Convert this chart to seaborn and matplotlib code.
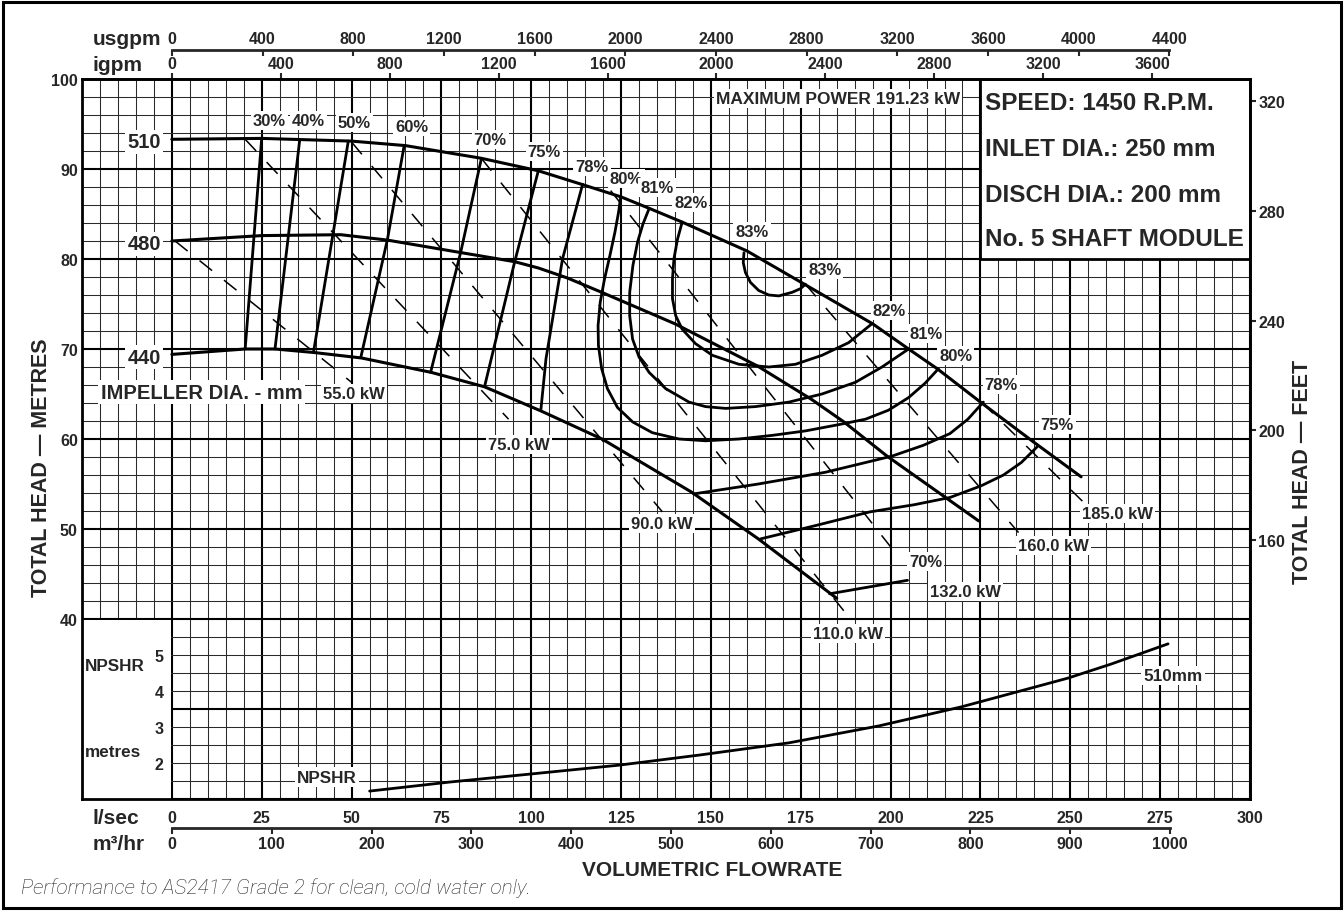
import numpy as np
import pandas as pd
import matplotlib
matplotlib.use("Agg")
import matplotlib.pyplot as plt
import seaborn as sns
from matplotlib.patches import Rectangle
from matplotlib.ticker import MultipleLocator, FixedLocator, FuncFormatter

# ---------------- data ----------------
# impeller head curves: flow (l/s) and total head (m)
imp_names = ["510", "480", "440"]
q_510 = [0, 25, 50, 65, 86, 102, 114, 125, 133, 142, 160, 176, 195, 205, 213, 225, 240, 253]
h_510 = [93.3, 93.4, 93.1, 92.6, 91.2, 89.8, 88.3, 86.9, 85.6, 84.1, 80.9, 77.2, 72.8, 70.0, 67.8, 64.1, 59.6, 55.8]
q_480 = [0, 25, 47, 60, 80.6, 95.4, 102, 110, 119, 140, 163, 178, 187, 199, 224.5]
h_480 = [82.0, 82.6, 82.7, 82.1, 80.7, 79.7, 79.0, 77.9, 76.4, 72.8, 68.1, 64.4, 61.9, 58.1, 50.9]
q_440 = [0, 20.4, 28.7, 39.8, 52.8, 72.2, 87.0, 102.8, 119.7, 144.6, 163.2, 185]
h_440 = [69.4, 70.0, 70.0, 69.6, 69.0, 67.4, 65.8, 63.1, 60.0, 54.1, 48.9, 42.3]

# efficiency iso-lines
eff_names = ["30", "40", "50", "60", "70", "75", "78a", "78b", "75b", "70b", "80", "81", "82", "83"]
eff_q = [
    [25.0, 20.4],
    [35.6, 28.7],
    [49.1, 39.4],
    [64.6, 60.0, 52.6],
    [86.1, 80.4, 72.0],
    [101.9, 95.4, 87.0],
    [114.3, 108.7, 104.1, 102.7],
    [145.2, 163.2, 181.8, 200.4, 209.1, 216.5, 221.5, 225.8],
    [163.8, 179.3, 194.2, 206.6, 216.5, 225.2, 231.4, 236.4, 240.7],
    [183.0, 204.7],
    [124.9, 124.3, 123.3, 121.9, 120.4, 119.2, 118.6, 118.7, 119.6, 121.2, 124.0, 128.2,
     133.7, 141.1, 148.5, 157.8, 167.0, 176.3, 185.6, 193.0, 199.4, 205.0, 209.6, 213.3],
    [132.8, 131.1, 129.6, 128.3, 127.4, 127.4, 128.2, 130.0, 132.8, 137.4, 143.9, 148.5,
     154.1, 162.4, 171.7, 180.9, 190.2, 197.6, 205.0],
    [142.0, 140.7, 139.7, 139.3, 139.3, 140.2, 142.0, 145.7, 150.4, 157.8, 166.1, 173.5,
     180.9, 188.3, 194.8],
    [159.2, 159.0, 159.6, 161.0, 163.3, 166.1, 168.9, 172.6, 174.9, 176.3],
]
eff_h = [
    [93.4, 70.0],
    [93.3, 70.0],
    [93.1, 69.6],
    [92.5, 82.2, 69.1],
    [91.1, 80.8, 67.4],
    [89.7, 79.7, 65.8],
    [88.3, 80.0, 68.9, 63.3],
    [53.9, 55.0, 56.3, 58.1, 59.3, 60.6, 62.2, 64.1],
    [48.9, 50.4, 51.9, 52.7, 53.5, 54.8, 56.0, 57.4, 59.1],
    [42.8, 44.3],
    [86.9, 85.2, 83.0, 80.4, 77.8, 75.2, 72.6, 70.4, 67.8, 65.6, 63.5, 61.9,
     60.7, 60.0, 59.8, 60.0, 60.4, 60.9, 61.6, 62.2, 63.2, 64.6, 66.2, 67.8],
    [85.6, 83.9, 81.9, 79.3, 76.3, 73.7, 71.1, 69.1, 67.4, 65.6, 64.1, 63.6,
     63.4, 63.6, 64.1, 65.0, 66.3, 68.0, 70.0],
    [84.1, 82.2, 80.0, 77.8, 75.6, 73.7, 72.2, 70.6, 69.3, 68.3, 68.0, 68.3,
     69.3, 70.7, 72.8],
    [80.7, 79.6, 78.5, 77.4, 76.5, 76.0, 75.9, 76.3, 76.7, 77.2],
]

# power lines (kW): start / end points
pow_names = ["55", "75", "90", "110", "132", "160", "185"]
pow_q = [[0.9, 50.0], [20.4, 93.7], [50.0, 136.5], [86.1, 189.2], [122.1, 202.0], [176.3, 235.6], [225.3, 253.6]]
pow_h = [[82.0, 66.3], [93.3, 62.2], [93.0, 51.9], [91.2, 39.8], [87.6, 47.0], [77.2, 49.6], [64.1, 53.0]]

# NPSHR curve (510 mm impeller)
npshr_q = [55, 77.2, 99.4, 124.4, 146.7, 171.7, 196.7, 219.7, 238.3, 249.4, 261.4, 277.2]
npshr_m = [1.22, 1.47, 1.69, 1.94, 2.22, 2.56, 3.03, 3.56, 4.06, 4.36, 4.75, 5.31]

# tick label values
ls_ticks = list(range(0, 301, 25))
m3h_ticks = list(range(0, 1001, 100))
usgpm_ticks = list(range(0, 4401, 400))
igpm_ticks = list(range(0, 3601, 400))
feet_ticks = [160, 200, 240, 280, 320]
npshr_ticks = [2, 3, 4, 5]

info_lines = ["SPEED: 1450 R.P.M.", "INLET DIA.: 250 mm", "DISCH DIA.: 200 mm", "No. 5 SHAFT MODULE"]


def long_frame(names, qs, hs):
    rows = []
    for n, q, h in zip(names, qs, hs):
        for i, (a, b) in enumerate(zip(q, h)):
            rows.append({"curve": n, "Q": a, "H": b, "i": i})
    return pd.DataFrame(rows)


df_imp = long_frame(imp_names, [q_510, q_480, q_440], [h_510, h_480, h_440])
df_eff = long_frame(eff_names, eff_q, eff_h)
df_pow = long_frame(pow_names, pow_q, pow_h)
df_npshr = pd.DataFrame({"Q": npshr_q, "N": npshr_m})

# ---------------- style ----------------
sns.set_theme(style="white")
plt.rcParams["font.family"] = ["Liberation Sans", "DejaVu Sans"]
plt.rcParams["font.weight"] = "bold"
plt.rcParams["axes.labelweight"] = "bold"

W, Hpx = 1344, 912
fig = plt.figure(figsize=(W / 100, Hpx / 100), dpi=100)
fig.patch.set_facecolor("white")

# main axes: x 82..1250 px, y 80..800 px
ax = fig.add_axes([82 / W, (Hpx - 800) / Hpx, 1168 / W, 720 / Hpx])
ax.set_facecolor("white")
ax.set_xlim(-25, 300)
ax.set_ylim(20, 100)

ax.xaxis.set_major_locator(MultipleLocator(25))
ax.xaxis.set_minor_locator(MultipleLocator(5))
ax.yaxis.set_major_locator(MultipleLocator(10))
ax.yaxis.set_minor_locator(MultipleLocator(2))
ax.set_axisbelow(True)
ax.grid(which="major", color="black", lw=1.5)
ax.grid(which="minor", color="#2a2a2a", lw=0.75)
ax.xaxis.set_major_formatter(FuncFormatter(lambda v, p: f"{v:.0f}" if v >= 0 else ""))
ax.yaxis.set_major_formatter(FuncFormatter(lambda v, p: f"{v:.0f}" if v >= 40 else ""))
ax.tick_params(which="both", length=0)
ax.tick_params(axis="x", pad=8, labelsize=11.5)
ax.tick_params(axis="y", pad=3, labelsize=11.5)
for lab in ax.get_xticklabels() + ax.get_yticklabels():
    lab.set_fontweight("bold")
for s in ax.spines.values():
    s.set_visible(True)
    s.set_color("black")
    s.set_linewidth(2.0)
ax.set_xlabel("")
ax.set_ylabel("")

# blank lower-left corner (no grid) and info box
ax.add_patch(Rectangle((-25, 20), 24.75, 19.9, facecolor="white", edgecolor="none", zorder=1))
ax.add_patch(Rectangle((225, 80), 75, 20, facecolor="white", edgecolor="black", lw=2.0, zorder=1.5))

# curves
sns.lineplot(data=df_imp, x="Q", y="H", units="curve", estimator=None, sort=False,
             color="black", lw=2.2, ax=ax, legend=False)
sns.lineplot(data=df_eff, x="Q", y="H", units="curve", estimator=None, sort=False,
             color="black", lw=2.0, ax=ax, legend=False)
sns.lineplot(data=df_pow, x="Q", y="H", units="curve", estimator=None, sort=False,
             color="black", lw=1.1, ax=ax, legend=False, linestyle=(0, (10.5, 10)))
for ln in ax.get_lines():
    ln.set_solid_joinstyle("round")
ax.set_xlabel("")
ax.set_ylabel("")

bb = dict(boxstyle="square,pad=0.12", fc="white", ec="none")


def lab(q, h, s, size=12, ha="center", va="center"):
    ax.text(q, h, s, fontsize=size, fontweight="bold", ha=ha, va=va, bbox=bb, zorder=4)


# impeller labels
lab(-3.0, 93.0, "510", 14.5, ha="right")
lab(-3.0, 81.7, "480", 14.5, ha="right")
lab(-3.0, 69.1, "440", 14.5, ha="right")
lab(8.3, 65.2, "IMPELLER DIA. - mm", 14.5)

# efficiency labels
for q, h, s in [(27.2, 95.4, "30%"), (38.1, 95.4, "40%"), (50.8, 95.2, "50%"), (66.7, 94.7, "60%"),
                (88.6, 93.3, "70%"), (103.6, 91.9, "75%"), (116.9, 90.3, "78%"), (126.4, 88.9, "80%"),
                (135.0, 87.9, "81%"), (144.4, 86.3, "82%"), (161.4, 83.1, "83%"), (181.7, 78.8, "83%"),
                (199.7, 74.3, "82%"), (210.0, 71.7, "81%"), (218.1, 69.3, "80%"), (230.8, 66.1, "78%"),
                (246.4, 61.6, "75%"), (209.7, 46.4, "70%")]:
    lab(q, h, s, 12)

# power labels
for q, h, s in [(50.6, 65.1, "55.0 kW"), (96.7, 59.4, "75.0 kW"), (136.4, 50.6, "90.0 kW"),
                (188.1, 38.4, "110.0 kW"), (220.8, 43.1, "132.0 kW"), (245.3, 48.2, "160.0 kW"),
                (263.1, 51.7, "185.0 kW")]:
    lab(q, h, s, 12)

lab(185.3, 97.8, "MAXIMUM POWER 191.23 kW", 12.5)

# info box text
for h, s in zip([97.4, 92.3, 87.2, 82.3], info_lines):
    ax.text(226.4, h, s, fontsize=17.5, fontweight="bold", ha="left", va="center", zorder=4)

# NPSHR side labels
ax.text(-24.2, 34.8, "NPSHR", fontsize=12.3, fontweight="bold", ha="left", va="center", zorder=4)
ax.text(-24.2, 25.3, "metres", fontsize=12.3, fontweight="bold", ha="left", va="center", zorder=4)

# NPSHR axes (lower panel)
ax2 = fig.add_axes([172 / W, (Hpx - 800) / Hpx, 1078 / W, 180 / Hpx])
ax2.patch.set_visible(False)
ax2.set_xlim(0, 300)
ax2.set_ylim(1, 6)
for s in ax2.spines.values():
    s.set_visible(False)
ax2.set_xticks([])
ax2.yaxis.set_major_locator(FixedLocator(npshr_ticks))
ax2.yaxis.set_major_formatter(FuncFormatter(lambda v, p: f"{v:.0f}"))
ax2.tick_params(axis="y", direction="out", length=4, width=1.3, color="black", pad=2, labelsize=11.5)
for t in ax2.get_yticklabels():
    t.set_fontweight("bold")
sns.lineplot(data=df_npshr, x="Q", y="N", estimator=None, sort=False, color="black", lw=2.0, ax=ax2)
ax2.set_xlabel("")
ax2.set_ylabel("")
ax2.text(43, 1.61, "NPSHR", fontsize=12.3, fontweight="bold", ha="center", va="center", bbox=bb, zorder=4)
ax2.text(278.6, 4.44, "510mm", fontsize=12.3, fontweight="bold", ha="center", va="center", bbox=bb, zorder=4)

# ---------------- secondary scales ----------------
US = 0.0630902
IMP = 0.0757682

sec_us = ax.secondary_xaxis((800 - 51) / 720, functions=(lambda q: q / US, lambda g: g * US))
sec_us.xaxis.set_major_locator(FixedLocator(usgpm_ticks))
sec_us.xaxis.set_major_formatter(FuncFormatter(lambda v, p: f"{v:.0f}"))
sec_us.tick_params(axis="x", direction="in", length=4, width=1.5, pad=3, labelsize=11.5)
sec_us.spines["top"].set_bounds(0, 4400)
sec_us.spines["top"].set_linewidth(2.0)

sec_ig = ax.secondary_xaxis("top", functions=(lambda q: q / IMP, lambda g: g * IMP))
sec_ig.xaxis.set_major_locator(FixedLocator(igpm_ticks))
sec_ig.xaxis.set_major_formatter(FuncFormatter(lambda v, p: f"{v:.0f}"))
sec_ig.tick_params(axis="x", direction="out", length=4, width=1.5, pad=2, labelsize=11.5)
sec_ig.spines["top"].set_linewidth(2.0)

sec_m3 = ax.secondary_xaxis((800 - 829) / 720, functions=(lambda q: q * 3.6, lambda m: m / 3.6))
sec_m3.xaxis.set_major_locator(FixedLocator(m3h_ticks))
sec_m3.xaxis.set_major_formatter(FuncFormatter(lambda v, p: f"{v:.0f}"))
sec_m3.tick_params(axis="x", direction="out", length=4, width=1.5, pad=2, labelsize=11.5)
sec_m3.spines["bottom"].set_bounds(0, 1000)
sec_m3.spines["bottom"].set_linewidth(2.0)

sec_ft = ax.secondary_yaxis("right", functions=(lambda h: h / 0.3048, lambda f: f * 0.3048))
sec_ft.yaxis.set_major_locator(FixedLocator(feet_ticks))
sec_ft.yaxis.set_major_formatter(FuncFormatter(lambda v, p: f"{v:.0f}"))
sec_ft.tick_params(axis="y", direction="out", length=4, width=1.5, pad=2, labelsize=11.5)
sec_ft.spines["right"].set_linewidth(2.0)

for sa in (sec_us, sec_ig, sec_m3, sec_ft):
    for t in sa.get_xticklabels() + sa.get_yticklabels():
        t.set_fontweight("bold")


def ftext(xp, yp, s, **kw):
    fig.text(xp / W, 1 - yp / Hpx, s, **kw)


ftext(93, 45, "usgpm", fontsize=15, fontweight="bold", ha="left", va="baseline")
ftext(93, 71, "igpm", fontsize=15, fontweight="bold", ha="left", va="baseline")
ftext(93, 824, "l/sec", fontsize=15, fontweight="bold", ha="left", va="baseline")
ftext(93, 850, "m³/hr", fontsize=15, fontweight="bold", ha="left", va="baseline")
ftext(712, 871, "VOLUMETRIC FLOWRATE", fontsize=15, fontweight="bold", ha="center", va="center")
ftext(42, 468, "TOTAL HEAD — METRES", fontsize=15.5, fontweight="bold", ha="center", va="center", rotation=90)
ftext(1303, 472, "TOTAL HEAD — FEET", fontsize=15.5, fontweight="bold", ha="center", va="center", rotation=90)
fig.text(21 / W, 1 - 888 / Hpx, "Performance to AS2417 Grade 2 for clean, cold water only.",
         fontsize=15, fontweight="light", style="italic", color="#222222",
         family=["Roboto", "DejaVu Sans"], ha="left", va="center")

# outer border
fig.patches.append(Rectangle((3 / W, 3 / Hpx), (W - 6) / W, (Hpx - 6) / Hpx, transform=fig.transFigure,
                             fill=False, edgecolor="black", lw=2.2))

fig.savefig("out.png", dpi=100, facecolor="white")
